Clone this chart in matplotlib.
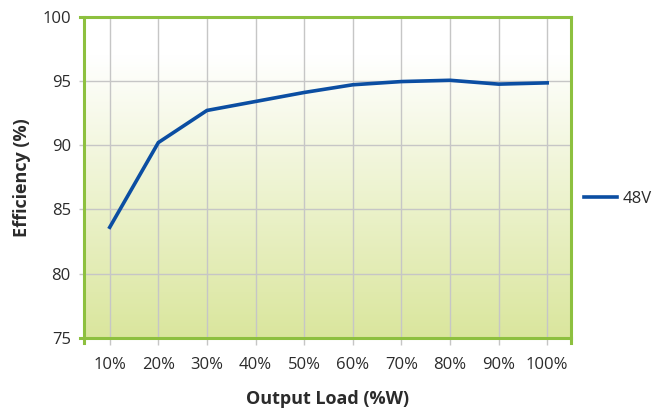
import numpy as np
import matplotlib
matplotlib.use("Agg")
from matplotlib import pyplot as plt
from matplotlib.colors import LinearSegmentedColormap

plt.rcParams['font.family'] = ['Open Sans', 'DejaVu Sans']

loads = ['10%', '20%', '30%', '40%', '50%', '60%', '70%', '80%', '90%', '100%']
eff_48v = [83.6, 90.2, 92.7, 93.4, 94.1, 94.7, 94.95, 95.05, 94.75, 94.85]
yticks = [75, 80, 85, 90, 95, 100]

green = '#8dc03f'
blue = '#0b4ea2'
grid_c = '#c6c6c6'
text_c = '#2b2b2b'

fig = plt.figure(figsize=(6.52, 4.08), dpi=100)
ax = fig.add_axes([0.1288, 0.1723, 0.7477, 0.7867])

x = np.arange(len(loads))
ax.set_xlim(-0.53, 9.5)
ax.set_ylim(75, 100)

# background gradient: white at top, pale green at bottom
cmap = LinearSegmentedColormap.from_list('bg', [(0, '#dae69d'), (0.88, '#ffffff'), (1, '#ffffff')])
grad = np.linspace(0, 1, 256).reshape(-1, 1)
ax.imshow(grad, cmap=cmap, aspect='auto', origin='lower',
          extent=[-0.53, 9.5, 75, 100], zorder=0)

ax.set_xticks(x)
ax.set_xticklabels(loads)
ax.set_yticks(yticks)
ax.grid(True, color=grid_c, linewidth=1.0, zorder=1)
ax.set_axisbelow(True)
ax.tick_params(axis='x', direction='out', length=5, width=1, color=grid_c,
               pad=9, labelsize=12, labelcolor=text_c)
ax.tick_params(axis='y', direction='out', length=3.5, width=1, color=grid_c,
               pad=6, labelsize=12, labelcolor=text_c)

ax.plot(x, eff_48v, color=blue, linewidth=2.6, label='48V', zorder=3,
        solid_joinstyle='miter')

for s in ax.spines.values():
    s.set_visible(False)
# frame with small overhang at corners
ext = 0.018
kw = dict(transform=ax.transAxes, color=green, linewidth=2.2, clip_on=False, zorder=4)
ax.plot([0, 0], [-ext, 1], **kw)
ax.plot([1, 1], [-ext, 1], **kw)
ax.plot([-0.008, 1], [1, 1], **kw)
ax.plot([-0.008, 1], [0, 0], **kw)

ax.set_xlabel('Output Load (%W)', fontsize=13, fontweight='bold', color=text_c, labelpad=12)
ax.set_ylabel('Efficiency (%)', fontsize=13, fontweight='bold', color=text_c, labelpad=8)

leg = ax.legend(loc='center left', bbox_to_anchor=(584 / 652, 1 - 199 / 408),
                bbox_transform=fig.transFigure, frameon=False, borderpad=0,
                borderaxespad=0, fontsize=12, handlelength=1.95, handletextpad=0.35)
for t in leg.get_texts():
    t.set_color(text_c)

fig.savefig('out.png', dpi=100)
